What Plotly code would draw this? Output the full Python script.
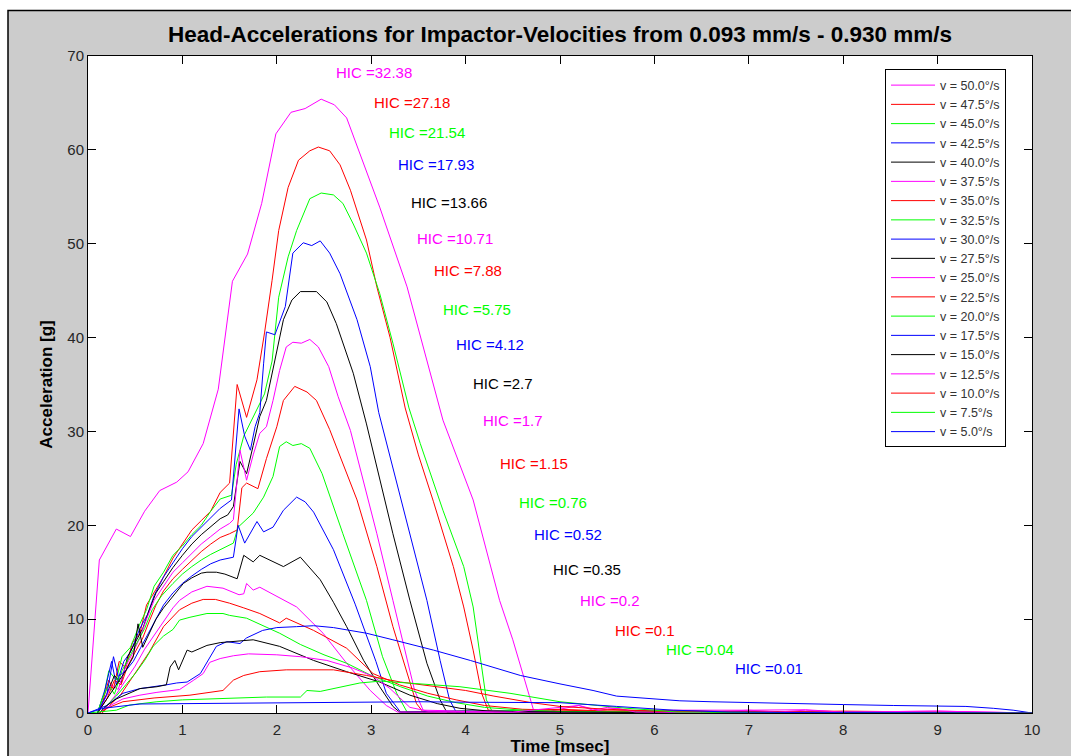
import plotly.graph_objects as go

# ---------------- data ----------------
VELOCITIES = ["50.0", "47.5", "45.0", "42.5", "40.0", "37.5", "35.0", "32.5", "30.0", "27.5",
              "25.0", "22.5", "20.0", "17.5", "15.0", "12.5", "10.0", "7.5", "5.0"]
HIC_VALUES = ["32.38", "27.18", "21.54", "17.93", "13.66", "10.71", "7.88", "5.75", "4.12", "2.7",
              "1.7", "1.15", "0.76", "0.52", "0.35", "0.2", "0.1", "0.04", "0.01"]
HIC_X = [2.61, 3.01, 3.17, 3.26, 3.40, 3.46, 3.64, 3.74, 3.88, 4.06,
         4.16, 4.34, 4.54, 4.70, 4.90, 5.19, 5.56, 6.10, 6.83]
HIC_Y = [68.2, 65.0, 61.8, 58.4, 54.4, 50.6, 47.1, 43.0, 39.3, 35.1,
         31.2, 26.6, 22.4, 19.0, 15.3, 12.0, 8.8, 6.8, 4.7]

T_50 = [0, 0.12, 0.3, 0.45, 0.6, 0.76, 0.94, 1.06, 1.22, 1.38, 1.53, 1.69, 1.84, 1.99, 2.15, 2.3, 2.47,
        2.61, 2.74, 2.88, 3.09, 3.38, 3.76, 4.08, 4.22, 4.36, 4.5, 4.65, 4.72, 4.9, 5.2, 5.35, 5.5,
        5.8, 6.2, 7.0, 7.6, 8.0, 9.0, 10]
A_50 = [0, 16.3, 19.6, 18.8, 21.5, 23.7, 24.6, 25.7, 28.7, 34.5, 46.0, 48.9, 54.3, 61.7, 64.0, 64.4, 65.4,
        64.8, 63.4, 59.6, 53.9, 45.4, 31.2, 22.7, 17.4, 12.0, 7.8, 2.8, 0.3, 0.2, 0.8, 0.3, 0.6,
        0.2, 0.3, 0.3, 0.35, 0.1, 0.2, 0]

T_475 = [0.1, 0.15, 0.22, 0.27, 0.33, 0.4, 0.47, 0.55, 0.62, 0.7, 0.8, 0.9, 1.0, 1.1, 1.2, 1.3, 1.4, 1.5,
         1.58, 1.68, 1.79, 1.87, 1.95, 2.02, 2.12, 2.23, 2.35, 2.44, 2.56, 2.67, 2.78, 2.95, 3.06, 3.2,
         3.36, 3.5, 3.66, 3.87, 3.98, 4.08, 4.17, 4.24, 4.5, 5.0, 5.5, 6.0, 7.0, 8.0, 9.0, 10]
A_475 = [0, 1.0, 3.5, 2.5, 5.5, 4.8, 7.5, 8.5, 11.5, 12.8, 14.5, 16.5, 18.0, 19.5, 20.5, 21.5, 23.5, 24.5,
         35.0, 31.5, 35.5, 40.5, 46.1, 51.4, 56.0, 58.9, 59.9, 60.3, 59.9, 58.4, 55.7, 50.4, 45.4, 40.0,
         32.5, 27.5, 22.5, 15.6, 11.3, 6.7, 2.1, 0.3, 0.2, 0.4, 0.2, 0.3, 0.1, 0.2, 0.1, 0]

T_45 = [0.1, 0.17, 0.22, 0.3, 0.36, 0.45, 0.55, 0.62, 0.7, 0.8, 0.9, 1.0, 1.1, 1.2, 1.3, 1.4, 1.52, 1.57,
        1.65, 1.75, 1.82, 1.87, 1.95, 2.02, 2.12, 2.21, 2.35, 2.47, 2.6, 2.7, 2.81, 2.95, 3.09, 3.23,
        3.4, 3.52, 3.76, 3.98, 4.08, 4.15, 4.22, 4.28, 4.6, 5.2, 6.0, 7.0, 8.5, 10]
A_45 = [0, 2.0, 4.5, 3.5, 6.0, 7.0, 9.5, 11.0, 13.5, 15.0, 16.8, 17.8, 19.0, 20.0, 21.5, 22.8, 23.2, 26.5,
        29.5, 31.5, 33.0, 34.0, 37.5, 44.3, 48.6, 51.4, 54.8, 55.4, 55.2, 54.3, 52.1, 49.0, 44.7, 39.4,
        32.5, 28.7, 21.6, 15.6, 11.3, 6.4, 1.4, 0.2, 0.3, 0.1, 0.2, 0.1, 0.1, 0]

T_425 = [0.1, 0.18, 0.25, 0.3, 0.38, 0.45, 0.55, 0.63, 0.7, 0.8, 0.9, 1.0, 1.1, 1.2, 1.3, 1.4, 1.52, 1.6,
         1.66, 1.72, 1.77, 1.82, 1.86, 1.89, 1.98, 2.09, 2.17, 2.28, 2.37, 2.46, 2.56, 2.67, 2.85, 2.99,
         3.08, 3.23, 3.41, 3.59, 3.73, 3.83, 3.9, 4.3, 5.0, 6.0, 8.0, 10]
A_425 = [0, 2.5, 5.5, 3.0, 5.5, 6.5, 9.0, 10.5, 12.5, 14.5, 16.0, 17.5, 18.8, 19.8, 20.8, 21.8, 22.7, 32.4,
         29.5, 28.0, 30.5, 32.0, 37.2, 40.6, 40.3, 43.3, 49.0, 50.1, 49.8, 50.3, 49.0, 46.8, 41.9, 36.9,
         32.0, 26.2, 19.1, 12.0, 5.6, 1.4, 0.1, 0.2, 0.1, 0.2, 0.1, 0]

T_40 = [0.1, 0.2, 0.28, 0.35, 0.42, 0.5, 0.58, 0.65, 0.72, 0.8, 0.9, 1.0, 1.1, 1.2, 1.3, 1.4, 1.48, 1.54,
        1.61, 1.68, 1.75, 1.82, 1.89, 1.95, 2.0, 2.07, 2.16, 2.25, 2.42, 2.53, 2.63, 2.81, 2.95, 3.06,
        3.23, 3.41, 3.59, 3.73, 3.8, 4.2, 5.0, 6.0, 8.0, 10]
A_40 = [0, 2.0, 4.0, 3.2, 6.0, 7.5, 9.0, 11.0, 12.8, 14.0, 15.5, 16.8, 18.0, 19.0, 19.8, 20.7, 21.1, 22.0,
        26.8, 25.5, 28.5, 31.6, 33.3, 36.2, 38.3, 41.9, 44.0, 44.9, 44.9, 43.8, 41.5, 36.2, 30.8, 26.2,
        19.1, 12.0, 5.3, 1.4, 0.1, 0.2, 0.1, 0.1, 0.05, 0]

T_375 = [0.1, 0.18, 0.25, 0.32, 0.4, 0.48, 0.55, 0.62, 0.7, 0.8, 0.9, 1.0, 1.1, 1.2, 1.3, 1.4, 1.5, 1.54,
         1.61, 1.68, 1.75, 1.82, 1.89, 1.96, 2.03, 2.1, 2.17, 2.26, 2.35, 2.44, 2.55, 2.65, 2.78, 2.88,
         3.06, 3.23, 3.38, 3.46, 3.55, 4.0, 5.0, 6.0, 8.0, 10]
A_375 = [0, 1.5, 3.0, 2.5, 5.0, 6.5, 8.0, 10.0, 12.0, 13.5, 15.0, 16.0, 17.0, 18.0, 18.8, 19.6, 20.2, 20.6,
         28.0, 24.8, 27.5, 29.8, 30.5, 33.3, 36.5, 39.0, 39.5, 39.4, 39.8, 39.0, 36.9, 33.7, 30.1, 26.2,
         19.1, 12.0, 5.6, 2.4, 0.3, 0.2, 0.1, 0.2, 0.1, 0]

T_35 = [0.1, 0.2, 0.28, 0.35, 0.42, 0.5, 0.58, 0.65, 0.72, 0.8, 0.9, 1.0, 1.1, 1.2, 1.3, 1.4, 1.5, 1.58,
        1.63, 1.68, 1.8, 1.89, 2.0, 2.07, 2.19, 2.32, 2.42, 2.56, 2.85, 3.06, 3.23, 3.38, 3.48, 3.55,
        4.0, 5.0, 6.0, 8.0, 10]
A_35 = [0, 1.5, 3.5, 3.0, 5.0, 6.5, 8.0, 9.8, 11.5, 13.0, 14.3, 15.3, 16.3, 17.2, 18.0, 18.7, 19.1, 19.5,
        24.0, 24.5, 23.9, 27.1, 30.5, 33.3, 34.8, 34.2, 33.3, 30.2, 22.7, 15.6, 9.2, 4.2, 1.0, 0.1,
        0.2, 0.1, 0.1, 0.05, 0]

T_325 = [0.1, 0.15, 0.22, 0.28, 0.36, 0.44, 0.52, 0.6, 0.68, 0.78, 0.9, 1.0, 1.1, 1.2, 1.3, 1.4, 1.54,
         1.59, 1.75, 1.86, 1.96, 2.03, 2.1, 2.17, 2.26, 2.35, 2.48, 2.7, 2.95, 3.12, 3.27, 3.38, 4.0,
         5.0, 6.0, 8.0, 10]
A_325 = [0, 1.5, 3.0, 2.0, 4.5, 6.0, 7.5, 9.0, 11.0, 12.5, 13.8, 14.8, 15.6, 16.3, 16.9, 17.4, 18.1,
         19.8, 21.3, 23.0, 25.2, 28.4, 28.9, 28.5, 28.7, 28.2, 25.5, 19.1, 12.0, 6.0, 2.1, 0.1, 0.2,
         0.1, 0.1, 0.05, 0]

T_30 = [0.1, 0.2, 0.27, 0.32, 0.4, 0.48, 0.56, 0.64, 0.72, 0.8, 0.9, 1.0, 1.1, 1.2, 1.3, 1.4, 1.54, 1.59,
        1.66, 1.79, 1.86, 1.96, 2.07, 2.21, 2.3, 2.39, 2.6, 2.83, 3.05, 3.16, 3.31, 4.0, 5.0, 6.0, 8.0, 10]
A_30 = [0, 2.0, 6.0, 3.9, 4.5, 5.5, 7.0, 8.5, 10.0, 11.5, 12.8, 13.8, 14.6, 15.3, 15.9, 16.3, 16.6, 20.0,
        18.1, 20.4, 19.3, 19.8, 21.6, 23.0, 22.5, 21.4, 17.4, 11.6, 5.5, 2.1, 0.1, 0.2, 0.1, 0.1, 0.05, 0]

T_275 = [0.1, 0.2, 0.3, 0.4, 0.48, 0.53, 0.58, 0.65, 0.72, 0.8, 0.9, 1.01, 1.1, 1.2, 1.26, 1.36, 1.45,
         1.58, 1.65, 1.75, 1.82, 1.95, 2.07, 2.25, 2.46, 2.6, 2.74, 2.92, 3.09, 3.23, 3.3, 4.0, 5.0, 6.0,
         8.0, 10]
A_275 = [0, 1.5, 3.0, 4.5, 6.0, 9.5, 7.0, 8.5, 10.0, 11.2, 12.5, 13.8, 14.4, 14.9, 15.0, 15.0, 14.8,
         14.3, 16.8, 16.1, 16.8, 16.2, 15.6, 16.6, 14.2, 11.8, 9.2, 5.6, 2.8, 0.7, 0.1, 0.1, 0.1, 0.05,
         0.05, 0]

T_25 = [0.15, 0.22, 0.3, 0.4, 0.5, 0.6, 0.7, 0.8, 0.9, 0.97, 1.1, 1.26, 1.43, 1.6, 1.65, 1.68, 1.75,
        1.82, 1.95, 2.21, 2.49, 2.74, 2.99, 3.16, 3.28, 4.0, 5.0, 6.0, 8.0, 10]
A_25 = [0, 1.0, 2.0, 3.5, 5.0, 6.8, 8.3, 9.8, 11.2, 12.0, 12.9, 13.5, 13.3, 12.6, 12.7, 13.8, 13.1,
        13.4, 12.7, 11.3, 8.5, 5.3, 2.4, 0.8, 0.1, 0.1, 0.1, 0.05, 0.05, 0]

T_225 = [0.15, 0.25, 0.35, 0.45, 0.55, 0.65, 0.8, 0.9, 0.97, 1.1, 1.22, 1.35, 1.5, 1.65, 1.82, 2.03,
         2.1, 2.39, 2.74, 3.02, 3.3, 3.6, 3.9, 4.2, 4.6, 5.0, 6.0, 7.0, 8.0, 10]
A_225 = [0, 1.0, 2.0, 3.5, 5.0, 6.5, 9.2, 10.2, 11.0, 11.7, 12.1, 12.1, 11.7, 11.2, 10.6, 9.6,
         10.1, 8.8, 6.9, 4.2, 3.0, 2.1, 1.4, 0.8, 0.4, 0.3, 0.1, 0.2, 0.05, 0]

T_20 = [0.12, 0.2, 0.3, 0.4, 0.5, 0.6, 0.69, 0.8, 0.9, 0.97, 1.08, 1.26, 1.43, 1.5, 1.68, 2.03, 2.25,
        2.5, 2.74, 3.0, 3.31, 3.6, 3.9, 4.2, 4.6, 5.0, 6.0, 10]
A_20 = [0, 0.8, 1.8, 3.0, 4.2, 5.6, 7.1, 8.2, 8.9, 9.9, 10.2, 10.6, 10.6, 10.4, 10.1, 8.5, 7.3,
        6.2, 5.3, 4.0, 2.8, 1.8, 1.1, 0.6, 0.3, 0.15, 0.1, 0]

T_175 = [0, 0.2, 0.37, 0.55, 0.83, 0.94, 1.05, 1.19, 1.36, 1.47, 1.61, 1.68, 1.85, 2.0, 2.21, 2.39, 2.6,
         2.95, 3.23, 3.66, 4.05, 4.58, 5.0, 5.35, 5.6, 5.88, 6.27, 6.6, 7.0, 7.47, 8.0, 8.53, 9.0, 9.3,
         9.59, 9.8, 10]
A_175 = [0, 0.8, 2.1, 2.6, 3.0, 3.2, 3.3, 4.2, 7.1, 7.6, 7.4, 8.0, 8.8, 9.1, 9.2, 9.3, 9.1,
         8.5, 7.8, 6.7, 5.6, 4.0, 3.1, 2.4, 1.8, 1.6, 1.3, 1.2, 1.1, 1.0, 0.9, 0.8, 0.7, 0.7,
         0.5, 0.3, 0]

T_15 = [0.12, 0.2, 0.3, 0.41, 0.55, 0.73, 0.83, 0.87, 0.92, 0.96, 1.05, 1.1, 1.19, 1.26, 1.4, 1.54,
        1.75, 2.03, 2.39, 2.74, 3.09, 3.41, 3.7, 3.94, 4.3, 5.0, 6.0, 10]
A_15 = [0, 0.8, 1.5, 2.0, 2.6, 2.8, 3.0, 4.9, 5.6, 4.6, 6.7, 6.5, 6.9, 7.2, 7.5, 7.6,
        7.8, 7.1, 5.6, 4.4, 3.3, 1.9, 1.0, 0.5, 0.15, 0.1, 0.05, 0]

T_125 = [0.12, 0.2, 0.37, 0.55, 0.73, 0.97, 1.12, 1.22, 1.29, 1.4, 1.54, 1.7, 2.0, 2.25, 2.53, 2.8,
         3.02, 3.2, 3.41, 3.6, 4.5, 5.2, 5.4, 5.6, 5.8, 6.5, 7.0, 7.3, 7.6, 8.0, 9.0, 10]
A_125 = [0, 0.6, 1.5, 1.9, 2.2, 2.5, 3.5, 4.2, 5.4, 5.8, 6.1, 6.3, 6.2, 6.0, 5.6, 4.8,
         3.9, 2.6, 0.6, 0.2, 0.1, 0.8, 0.3, 0.5, 0.1, 0.05, 0.3, 0.1, 0.3, 0.1, 0.2, 0]

T_10 = [0.12, 0.2, 0.37, 0.7, 1.08, 1.43, 1.54, 1.65, 1.82, 2.1, 2.6, 2.95, 3.31, 3.6, 4.0, 4.3,
        4.7, 5.0, 5.5, 6.0, 7.0, 10]
A_10 = [0, 0.5, 1.2, 1.6, 1.9, 2.4, 3.5, 4.0, 4.4, 4.6, 4.6, 4.0, 3.3, 2.9, 2.4, 1.8,
        1.1, 0.7, 0.4, 0.2, 0.1, 0]

T_75 = [0, 0.3, 0.44, 0.73, 1.0, 1.5, 1.89, 2.25, 2.32, 2.46, 2.6, 2.88, 3.1, 3.41, 3.94, 4.47,
        5.0, 5.4, 5.71, 6.0, 6.24, 7.0, 10]
A_75 = [0, 0.3, 0.85, 1.2, 1.4, 1.6, 1.7, 1.7, 2.4, 2.3, 2.6, 3.2, 3.4, 3.2, 2.8, 2.1,
        1.2, 0.8, 0.5, 0.3, 0.1, 0.05, 0]

T_5 = [0, 0.16, 0.55, 1.0, 1.72, 2.5, 3.0, 3.5, 4.0, 4.5, 5.0, 5.6, 6.2, 6.8, 7.5, 10]
A_5 = [0, 0.5, 0.96, 1.0, 1.1, 1.1, 1.2, 1.2, 1.15, 1.1, 1.1, 0.7, 0.3, 0.1, 0.05, 0]

SERIES_T = [T_50, T_475, T_45, T_425, T_40, T_375, T_35, T_325, T_30, T_275,
            T_25, T_225, T_20, T_175, T_15, T_125, T_10, T_75, T_5]
SERIES_A = [A_50, A_475, A_45, A_425, A_40, A_375, A_35, A_325, A_30, A_275,
            A_25, A_225, A_20, A_175, A_15, A_125, A_10, A_75, A_5]

# ---------------- styling ----------------
COLORS = ["#ff00ff", "#ff0000", "#00ff00", "#0000ff", "#000000"]
FONT = "Liberation Sans, Arial, sans-serif"

# plot area in pixels (for the outer frame shapes)
PL, PR, PT, PB = 88, 1032, 55.5, 713
W, H = 1071, 756


def px_x(px):
    return (px - PL) / (PR - PL)


def px_y(py):
    return (PB - py) / (PB - PT)


fig = go.Figure()
for i, (v, t, a) in enumerate(zip(VELOCITIES, SERIES_T, SERIES_A)):
    fig.add_trace(go.Scatter(
        x=t, y=a, mode="lines", name=f"v = {v}\u00b0/s",
        line=dict(color=COLORS[i % 5], width=1),
    ))

for i, (h, hx, hy) in enumerate(zip(HIC_VALUES, HIC_X, HIC_Y)):
    fig.add_annotation(x=hx, y=hy, xref="x", yref="y", text=f"HIC ={h}",
                       showarrow=False, xanchor="left", yanchor="middle",
                       font=dict(family=FONT, size=15, color=COLORS[i % 5]))

axis_common = dict(
    showgrid=False, zeroline=False, showline=True, linecolor="#000000", linewidth=1,
    mirror="ticks", ticks="inside", ticklen=8, tickcolor="#000000", tickwidth=1,
    tickfont=dict(family=FONT, size=15, color="#262626"), automargin=False,
)

fig.update_layout(
    width=W, height=H,
    margin=dict(l=PL, r=W - PR, t=PT, b=H - PB, pad=0, autoexpand=False),
    paper_bgcolor="#cccccc",
    plot_bgcolor="#ffffff",
    font=dict(family=FONT),
    title=dict(text="<b>Head-Accelerations for Impactor-Velocities from 0.093 mm/s - 0.930 mm/s</b>",
               x=(PL + PR) / 2 / W, xanchor="center", y=1 - 34 / H, yanchor="middle",
               font=dict(family=FONT, size=22.5, color="#000000"), automargin=False),
    xaxis=dict(range=[0, 10], dtick=1, tick0=0, ticklabelstandoff=3,
               title=dict(text="<b>Time [msec]</b>", font=dict(family=FONT, size=17, color="#000000"),
                          standoff=0),
               **axis_common),
    yaxis=dict(range=[0, 70], dtick=10, tick0=0,
               title=dict(text="<b>Acceleration [g]</b>", font=dict(family=FONT, size=17, color="#000000"),
                          standoff=10),
               **axis_common),
    legend=dict(x=px_x(885), y=px_y(69), xanchor="left", yanchor="top",
                bgcolor="#ffffff", bordercolor="#000000", borderwidth=1,
                font=dict(family=FONT, size=12.5, color="#333333"),
                tracegroupgap=0, itemwidth=44),
    showlegend=True,
    shapes=[
        dict(type="rect", xref="paper", yref="paper", x0=px_x(-50), x1=px_x(8), y0=px_y(900), y1=px_y(-50),
             fillcolor="#ffffff", line=dict(width=0), layer="above"),
        dict(type="rect", xref="paper", yref="paper", x0=px_x(-50), x1=px_x(1200), y0=px_y(10), y1=px_y(-50),
             fillcolor="#ffffff", line=dict(width=0), layer="above"),
        dict(type="rect", xref="paper", yref="paper", x0=px_x(8), x1=px_x(1200), y0=px_y(900), y1=px_y(10),
             line=dict(color="#000000", width=1.5), layer="above"),
    ],
)

fig.write_html("out.html", config={"displayModeBar": False},
               post_script="document.body.style.margin='0';document.body.style.overflow='hidden';")
